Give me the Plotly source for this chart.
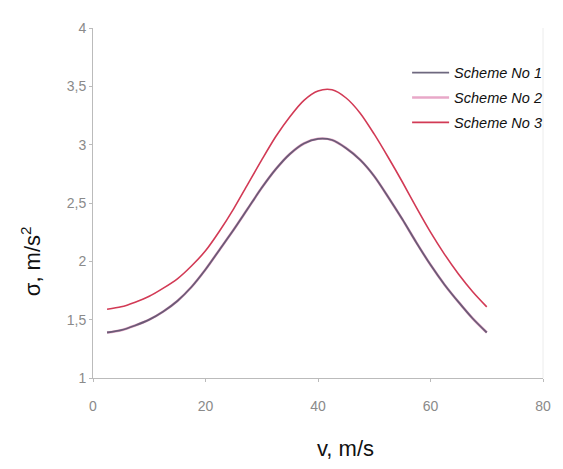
import plotly.graph_objects as go

v = [2.5, 5, 7.5, 10, 12.5, 15, 17.5, 20, 22.5, 25, 27.5, 30, 32.5, 35, 37.5,
     40, 42.5, 45, 47.5, 50, 52.5, 55, 57.5, 60, 62.5, 65, 67.5, 70]
scheme1 = [1.39, 1.41, 1.45, 1.50, 1.57, 1.66, 1.78, 1.93, 2.10, 2.27, 2.45, 2.63, 2.79, 2.92, 3.01,
           3.05, 3.04, 2.97, 2.87, 2.73, 2.55, 2.36, 2.16, 1.97, 1.80, 1.65, 1.51, 1.39]
scheme2 = [1.39, 1.41, 1.45, 1.50, 1.57, 1.66, 1.78, 1.93, 2.10, 2.27, 2.45, 2.63, 2.79, 2.92, 3.01,
           3.05, 3.04, 2.97, 2.87, 2.73, 2.55, 2.36, 2.16, 1.97, 1.80, 1.65, 1.51, 1.39]
scheme3 = [1.59, 1.61, 1.65, 1.70, 1.77, 1.85, 1.96, 2.09, 2.26, 2.45, 2.66, 2.87, 3.07, 3.24, 3.38,
           3.46, 3.47, 3.40, 3.27, 3.09, 2.89, 2.68, 2.46, 2.25, 2.06, 1.89, 1.74, 1.61]
x_ticks = [0, 20, 40, 60, 80]
y_ticks = [1, 1.5, 2, 2.5, 3, 3.5, 4]

names = ["Scheme No 1", "Scheme No 2", "Scheme No 3"]
colors = ["rgba(85,78,105,0.85)", "#e8a8c8", "#d23a55"]
widths = [1.8, 2.6, 1.6]

fig = go.Figure()
series = [scheme1, scheme2, scheme3]
for i in [1, 0, 2]:
    fig.add_trace(go.Scatter(
        x=v, y=series[i], mode="lines", name="<i>" + names[i] + "</i>",
        line=dict(color=colors[i], width=widths[i], shape="spline", smoothing=0.8),
        legendrank=i + 1, legendgroup="g%d" % i,
    ))

fig.update_layout(
    width=555, height=461,
    margin=dict(l=85, r=16, t=12, b=91),
    paper_bgcolor="white", plot_bgcolor="white",
    separators=", ",
    showlegend=True,
    legend=dict(x=0.698, y=0.918, xanchor="left", yanchor="top",
                font=dict(family="Liberation Sans, Arial", size=14.5, color="#111"),
                bgcolor="rgba(0,0,0,0)", itemwidth=37, tracegroupgap=3),
    font=dict(family="Liberation Sans, Arial"),
)
fig.update_xaxes(range=[0, 80], tickvals=x_ticks, showgrid=False, zeroline=False,
                 showline=True, linecolor="#bbb", linewidth=1, ticks="outside", ticklen=3,
                 tickcolor="#bbb", tickfont=dict(size=14, color="#8a8a8a"),
                 ticklabelstandoff=12)
fig.update_yaxes(range=[1, 4], tickvals=y_ticks, showgrid=False, zeroline=False,
                 showline=True, linecolor="#bbb", linewidth=1, ticks="outside", ticklen=3,
                 tickcolor="#bbb", tickfont=dict(size=14, color="#8a8a8a"))
fig.add_shape(type="line", xref="paper", yref="paper", x0=1, x1=1, y0=0, y1=1,
              line=dict(color="#ececec", width=1))
fig.add_annotation(text="σ, m/s<sup>2</sup>", xref="paper", yref="paper", x=-0.139, y=0.335,
                   textangle=-90, showarrow=False, font=dict(size=22, color="#111"),
                   xanchor="center", yanchor="middle")
fig.add_annotation(text="v, m/s", xref="paper", yref="paper", x=0.562, y=-0.201,
                   showarrow=False, font=dict(size=22, color="#111"),
                   xanchor="center", yanchor="middle")

fig.write_html("out.html")
